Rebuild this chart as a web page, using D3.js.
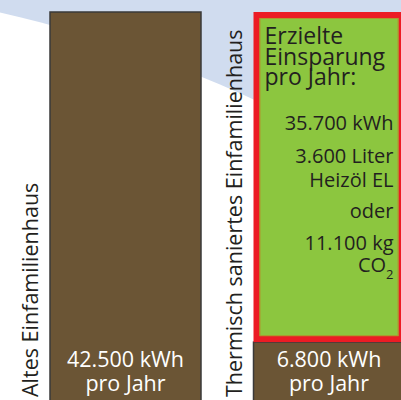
<!DOCTYPE html>
<html>
<meta charset="utf-8">
<head>
  <script src="https://d3js.org/d3.v7.min.js"></script>
</head>
<style>
  body {
    margin: 0;
    background-color: #ffffff;
  }
  svg text {
    font-family: 'Open Sans', sans-serif;
  }
</style>
<body>
<script>
  // data
  var houses = ["Altes Einfamilienhaus", "Thermisch saniertes Einfamilienhaus"];
  var consumption = [42500, 6800];      // kWh pro Jahr
  var savings = [0, 35700];             // kWh eingespart
  var valueLabels = ["42.500 kWh", "6.800 kWh"];
  var unitLabel = "pro Jahr";
  var headLines = ["Erzielte", "Einsparung", "pro Jahr:"];
  var savingLines = ["35.700 kWh", "3.600 Liter", "Heizöl EL", "oder", "11.100 kg", "CO"];

  var w = 401, h = 400;

  var svg = d3.select("body").append("svg")
    .attr("width", w)
    .attr("height", h);

  // background: light blue with a white sweep
  svg.append("rect")
    .attr("width", w).attr("height", h)
    .attr("fill", "#d0dcef");

  var curve = d3.range(0, 420, 20).map(function(x) {
    return [x, 12.5 + 0.2288 * x + 0.00045 * x * x];
  });
  curve.push([420, h], [0, h]);
  svg.append("path")
    .attr("d", d3.line()(curve) + "Z")
    .attr("fill", "#ffffff");

  var x = d3.scaleBand()
    .domain(houses)
    .range([16, 423])
    .padding(0);

  var y = d3.scaleLinear()
    .domain([0, d3.max(consumption, function(d, i) { return d + savings[i]; })])
    .range([405, 12]);

  var barOff = 34, barW = 151;

  var g = svg.selectAll("g.house")
    .data(houses)
    .enter().append("g")
    .attr("class", "house");

  // brown consumption bars
  g.append("rect")
    .attr("x", function(d) { return x(d) + barOff; })
    .attr("y", function(d, i) { return y(consumption[i]); })
    .attr("width", barW)
    .attr("height", function(d, i) { return y(0) - y(consumption[i]); })
    .attr("fill", "#6b5535")
    .attr("stroke", "#3a3a3a")
    .attr("stroke-width", 1.5);

  // saving box (stacked on top)
  var saved = g.filter(function(d, i) { return savings[i] > 0; });
  saved.append("rect")
    .attr("x", function(d) { return x(d) + barOff + 3; })
    .attr("y", function(d) { var i = houses.indexOf(d); return y(consumption[i] + savings[i]) + 3; })
    .attr("width", barW - 6)
    .attr("height", function(d) {
      var i = houses.indexOf(d);
      return y(consumption[i]) - y(consumption[i] + savings[i]) - 6;
    })
    .attr("fill", "#8cc63f")
    .attr("stroke", "#ec1c24")
    .attr("stroke-width", 6);
  saved.append("rect")
    .attr("x", function(d) { return x(d) + barOff + 6.5; })
    .attr("y", function(d) { var i = houses.indexOf(d); return y(consumption[i] + savings[i]) + 6.5; })
    .attr("width", barW - 13)
    .attr("height", function(d) {
      var i = houses.indexOf(d);
      return y(consumption[i]) - y(consumption[i] + savings[i]) - 13;
    })
    .attr("fill", "none")
    .attr("stroke", "#b0962e")
    .attr("stroke-width", 1);

  // rotated house names
  g.append("text")
    .attr("transform", function(d) { return "translate(" + (x(d) + barOff - 12) + ",397) rotate(-90)"; })
    .attr("font-size", 21.5)
    .attr("fill", "#231f20")
    .text(function(d) { return d; });

  // value labels in the brown bars
  g.append("text")
    .attr("x", function(d) { return x(d) + barOff + barW / 2; })
    .attr("y", 367)
    .attr("text-anchor", "middle")
    .attr("font-size", 21.5)
    .attr("fill", "#ffffff")
    .text(function(d, i) { return valueLabels[i]; });
  g.append("text")
    .attr("x", function(d) { return x(d) + barOff + barW / 2; })
    .attr("y", 391)
    .attr("text-anchor", "middle")
    .attr("font-size", 21.5)
    .attr("fill", "#ffffff")
    .text(unitLabel);

  // text inside the saving box
  var bx = x(houses[1]) + barOff;
  svg.selectAll("text.head")
    .data(headLines)
    .enter().append("text")
    .attr("class", "head")
    .attr("x", bx + 11)
    .attr("y", function(d, i) { return 44 + i * 20.5; })
    .attr("font-size", 23)
    .attr("fill", "#231f20")
    .text(function(d) { return d; });

  var lineY = [130, 163, 187, 218, 250, 272];
  var lines = svg.selectAll("text.saving")
    .data(savingLines)
    .enter().append("text")
    .attr("class", "saving")
    .attr("x", bx + barW - 11)
    .attr("y", function(d, i) { return lineY[i]; })
    .attr("text-anchor", "end")
    .attr("font-size", 20)
    .attr("fill", "#231f20")
    .text(function(d) { return d; });
  lines.filter(function(d) { return d === "CO"; })
    .append("tspan")
    .attr("dy", 7)
    .attr("font-size", 13)
    .text("2");
</script>
</body>
</html>
